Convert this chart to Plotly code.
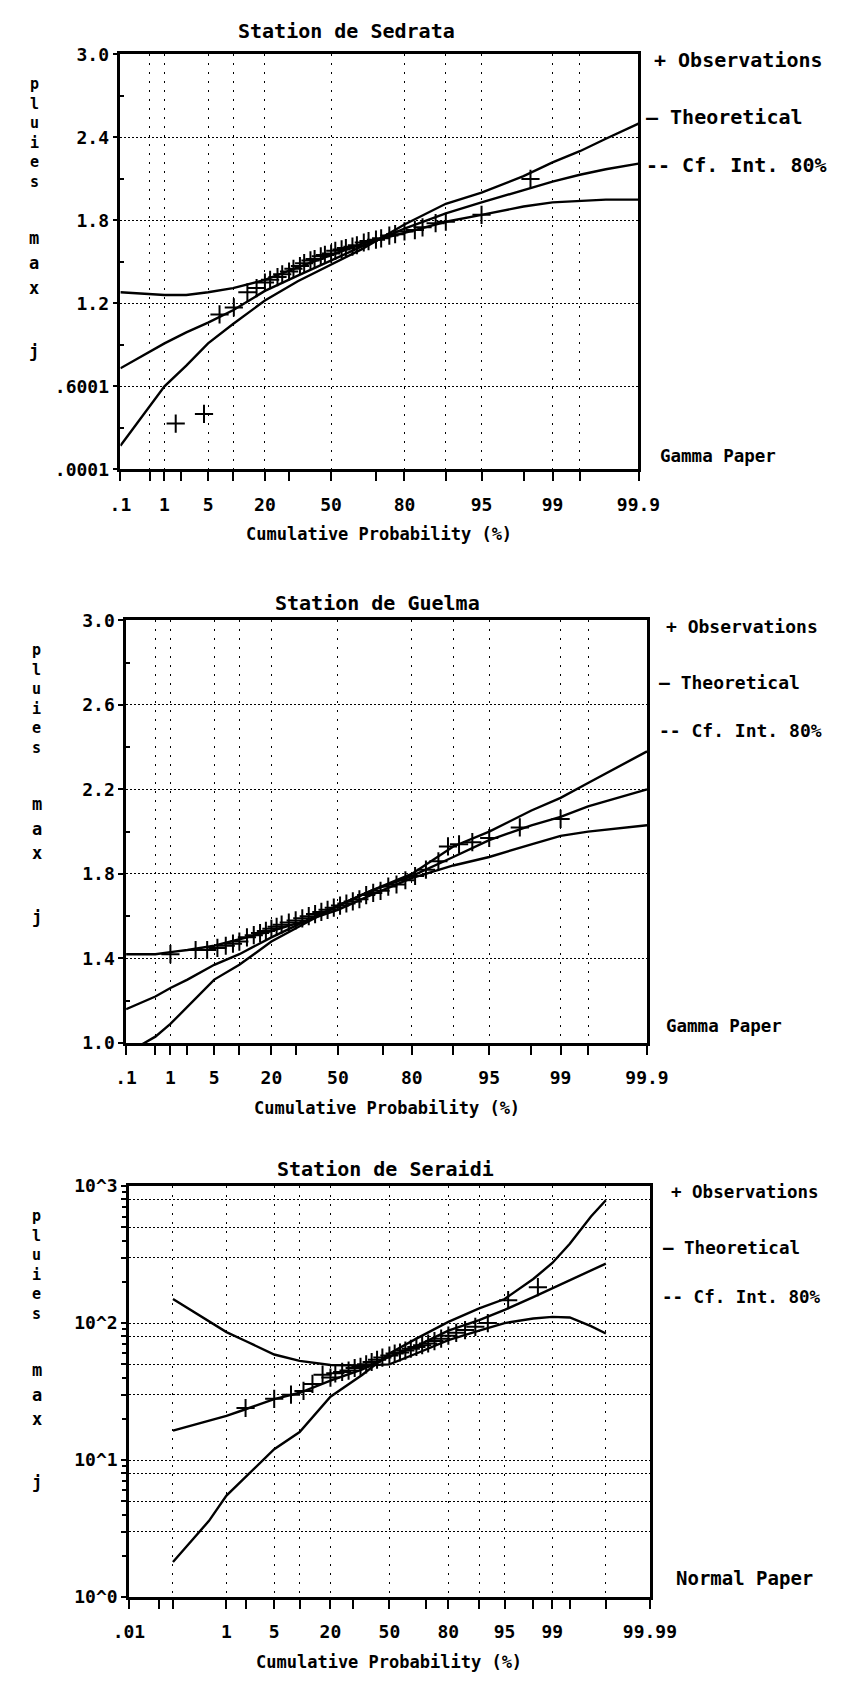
import plotly.graph_objects as go
from statistics import NormalDist

W, H = 842, 1686
MONO = "DejaVu Sans Mono"

# ---------------- data ----------------
# Station de Sedrata (gamma probability paper, linear y)
sed_prob = [0.1, 0.5, 1, 2.4, 5, 10, 20, 34, 50, 64, 80, 90, 95, 98, 99, 99.5, 99.75, 99.9]
sed_theo = [0.73, 0.85, 0.91, 0.99, 1.06, 1.15, 1.29, 1.40, 1.51, 1.61, 1.74, 1.85, 1.93, 2.02, 2.08, 2.13, 2.17, 2.21]
sed_ci_a = [1.28, 1.27, 1.26, 1.26, 1.28, 1.31, 1.37, 1.46, 1.55, 1.63, 1.71, 1.79, 1.84, 1.90, 1.93, 1.94, 1.95, 1.95]
sed_ci_b = [0.17, 0.46, 0.60, 0.75, 0.91, 1.05, 1.22, 1.36, 1.48, 1.59, 1.77, 1.92, 2.00, 2.12, 2.22, 2.30, 2.39, 2.50]
sed_obs_prob = [1.6, 4.4, 7.0, 10.2, 14, 17, 20, 22, 25, 27, 30, 32, 35, 37, 40, 42, 45, 47, 50,
                52, 55, 57, 60, 62, 65, 67, 70, 72, 75, 77, 80, 83, 85, 88, 90, 95, 98.3]
sed_obs_val = [0.33, 0.40, 1.12, 1.17, 1.28, 1.31, 1.35, 1.37, 1.39, 1.41, 1.43, 1.45, 1.47, 1.49, 1.51, 1.52, 1.54, 1.55, 1.56,
               1.58, 1.59, 1.60, 1.61, 1.62, 1.64, 1.65, 1.66, 1.67, 1.69, 1.70, 1.72, 1.73, 1.75, 1.78, 1.79, 1.84, 2.10]

# Station de Guelma (gamma probability paper, linear y)
gue_prob = [0.1, 0.5, 1, 2, 5, 10, 20, 35, 50, 65, 80, 90, 95, 98, 99, 99.5, 99.9]
gue_theo = [1.16, 1.22, 1.26, 1.30, 1.37, 1.42, 1.50, 1.58, 1.65, 1.72, 1.79, 1.88, 1.96, 2.03, 2.07, 2.12, 2.20]
gue_ci_a = [1.42, 1.42, 1.43, 1.44, 1.46, 1.49, 1.53, 1.58, 1.63, 1.70, 1.78, 1.84, 1.88, 1.94, 1.98, 2.00, 2.03]
gue_ci_b = [0.95, 1.03, 1.09, 1.17, 1.30, 1.37, 1.48, 1.57, 1.65, 1.72, 1.80, 1.93, 2.00, 2.10, 2.16, 2.23, 2.38]
gue_obs_prob = [1, 2.7, 4, 5.5, 7, 8.5, 10, 12, 14, 16, 18, 20, 22, 24, 27, 30, 33, 36, 39, 42, 45, 48,
                51, 54, 57, 60, 63, 66, 69, 72, 75, 78, 81, 84, 87, 89, 91, 93, 95, 97.4, 99]
gue_obs_val = [1.42, 1.44, 1.44, 1.45, 1.46, 1.47, 1.48, 1.50, 1.51, 1.52, 1.53, 1.54, 1.55, 1.56, 1.57, 1.58, 1.59, 1.60,
               1.61, 1.62, 1.63, 1.64, 1.65, 1.66, 1.67, 1.68, 1.70, 1.71, 1.72, 1.74, 1.75, 1.77, 1.79, 1.82, 1.86,
               1.93, 1.94, 1.95, 1.97, 2.02, 2.06]

# Station de Seraidi (normal probability paper, log y)
ser_prob = [0.1, 0.5, 1, 2, 5, 10, 20, 35, 50, 65, 80, 90, 95, 98, 99, 99.5, 99.8, 99.9]
ser_theo = [16.4, 19.5, 21, 23.5, 27.9, 31, 38, 46, 57, 68, 88, 105, 125, 155, 180, 205, 245, 272]
ser_ci_a = [150, 104, 86, 74, 59, 53, 49.5, 49, 50, 60, 75, 88, 100, 108, 111, 110, 95, 84]
ser_ci_b = [1.8, 3.6, 5.5, 7.5, 12, 16, 29, 42, 60, 77, 102, 128, 150, 210, 275, 380, 600, 790]
ser_obs_prob = [2, 5, 8, 11, 13.6, 17, 20, 22, 25, 28, 31, 34, 37, 40, 43, 46, 50, 53, 56, 59, 62, 65,
                68, 71, 74, 77, 80, 83, 86, 89, 92, 95.5, 98.3]
ser_obs_val = [24, 28, 30, 32, 36, 42, 40, 43, 44, 45, 47, 48, 50, 52, 54, 56, 58, 60, 61, 63, 65, 67,
               69, 71, 74, 77, 81, 85, 89, 94, 100, 147, 183]

# axis tick definitions
gamma_major = [0.1, 0.5, 1, 5, 10, 20, 50, 80, 90, 95, 99, 99.5, 99.9]
gamma_major_text = [".1", "", "1", "5", "", "20", "50", "80", "", "95", "99", "", "99.9"]
gamma_minor = [2, 30, 70, 98]
normal_major = [0.01, 0.1, 1, 5, 10, 20, 50, 80, 90, 95, 99, 99.9, 99.99]
normal_major_text = [".01", "", "1", "5", "", "20", "50", "80", "", "95", "99", "", "99.99"]
normal_minor = [0.05, 2, 30, 70, 98, 99.5]

sed_yticks = [0.0001, 0.6001, 1.2, 1.8, 2.4, 3.0]
sed_ytext = [".0001", ".6001", "1.2", "1.8", "2.4", "3.0"]
sed_yminor = [0.3001, 0.9, 1.5, 2.1, 2.7]
gue_yticks = [1.0, 1.4, 1.8, 2.2, 2.6, 3.0]
gue_ytext = ["1.0", "1.4", "1.8", "2.2", "2.6", "3.0"]
gue_yminor = [1.2, 1.6, 2.0, 2.4, 2.8]
ser_yticks = [1, 3, 5, 8, 10, 30, 50, 80, 100, 300, 500, 800, 1000]
ser_ytext = ["10^0", "", "", "", "10^1", "", "", "", "10^2", "", "", "", "10^3"]
ser_yminor = [2, 4, 6, 7, 9, 20, 40, 60, 70, 90, 200, 400, 600, 700, 900]

# ---------------- probability-paper scales ----------------
ND = NormalDist()
K_SHAPE = 30.0


def gamma_paper(p):
    a = 1.0 / (9.0 * K_SHAPE)
    z = ND.inv_cdf(p / 100.0)
    return (1.0 - a + z * a ** 0.5) ** 3


def normal_paper(p):
    return ND.inv_cdf(p / 100.0)


def px_x(x):
    return x / W


def px_y(y):
    return 1 - y / H


panels = [
    dict(title="Station de Sedrata", paper=gamma_paper, xmin=0.1, xmax=99.9,
         box=(110, 656, 44, 464), prob=sed_prob, theo=sed_theo, ci_a=sed_ci_a, ci_b=sed_ci_b,
         op=sed_obs_prob, ov=sed_obs_val, major=gamma_major, mtext=gamma_major_text, minor=gamma_minor,
         yt=sed_yticks, ytt=sed_ytext, ym=sed_yminor, ytype="linear", yrange=[0.0001, 3.0],
         paper_label="Gamma Paper", paper_pos=(677, 451), paper_size=17.5,
         title_pos=(348, 20), leg_size=20, leg_x=(670, 662, 662), lab_x=19),
    dict(title="Station de Guelma", paper=gamma_paper, xmin=0.1, xmax=99.9,
         box=(116, 665, 617, 1045), prob=gue_prob, theo=gue_theo, ci_a=gue_ci_a, ci_b=gue_ci_b,
         op=gue_obs_prob, ov=gue_obs_val, major=gamma_major, mtext=gamma_major_text, minor=gamma_minor,
         yt=gue_yticks, ytt=gue_ytext, ym=gue_yminor, ytype="linear", yrange=[1.0, 3.0],
         paper_label="Gamma Paper", paper_pos=(683, 1028), paper_size=17.5,
         title_pos=(381, 599), leg_size=18, leg_x=(683, 675, 675), lab_x=22),
    dict(title="Station de Seraidi", paper=normal_paper, xmin=0.01, xmax=99.99,
         box=(119, 668, 1190, 1606), prob=ser_prob, theo=ser_theo, ci_a=ser_ci_a, ci_b=ser_ci_b,
         op=ser_obs_prob, ov=ser_obs_val, major=normal_major, mtext=normal_major_text, minor=normal_minor,
         yt=ser_yticks, ytt=ser_ytext, ym=ser_yminor, ytype="log", yrange=[0, 3],
         paper_label="Normal Paper", paper_pos=(693, 1587), paper_size=19,
         title_pos=(389, 1173), leg_size=17.5, leg_x=(688, 680, 679), lab_x=22),
]

fig = go.Figure()
annotations = []


def bold(size):
    return dict(family=MONO, size=size, color="black", weight="bold")


for i, pnl in enumerate(panels, start=1):
    xa = "x" if i == 1 else f"x{i}"
    ya = "y" if i == 1 else f"y{i}"
    f = pnl["paper"]
    xs = [f(p) for p in pnl["prob"]]
    line = dict(color="black", width=2.4)
    for key, nm in (("theo", "Theoretical"), ("ci_a", "Cf. Int. 80%"), ("ci_b", "Cf. Int. 80%")):
        fig.add_trace(go.Scatter(x=xs, y=pnl[key], mode="lines", line=line, name=nm,
                                 showlegend=False, xaxis=xa, yaxis=ya, hoverinfo="skip"))
    fig.add_trace(go.Scatter(x=[f(p) for p in pnl["op"]], y=pnl["ov"], mode="markers", name="Observations",
                             marker=dict(symbol="cross-thin", size=13, line=dict(color="black", width=2)),
                             showlegend=False, xaxis=xa, yaxis=ya, cliponaxis=False))

    x0, x1, y0, y1 = pnl["box"]
    common = dict(showline=True, linecolor="black", linewidth=2.5, mirror=True,
                  ticks="outside", tickcolor="black", tickwidth=1.5,
                  showgrid=True, gridcolor="black", gridwidth=1, zeroline=False,
                  tickfont=bold(18))
    xaxis = dict(common, domain=[px_x(x0), px_x(x1)], anchor=ya,
                 range=[f(pnl["xmin"]), f(pnl["xmax"])],
                 tickmode="array", tickvals=[f(p) for p in pnl["major"]], ticktext=pnl["mtext"],
                 ticklen=9, griddash="2px,7px", ticklabelstandoff=8,
                 minor=dict(tickmode="array", tickvals=[f(p) for p in pnl["minor"]], ticks="outside",
                            ticklen=9, tickcolor="black", tickwidth=1.5, showgrid=False))
    yaxis = dict(common, domain=[px_y(y1), px_y(y0)], anchor=xa, type=pnl["ytype"],
                 range=pnl["yrange"], tickmode="array", tickvals=pnl["yt"], ticktext=pnl["ytt"],
                 ticklen=5, griddash="2px,2px",
                 minor=dict(tickmode="array", tickvals=pnl["ym"], ticks="inside", ticklen=4,
                            tickcolor="black", tickwidth=1.5, showgrid=False))
    if pnl["ytype"] == "log":
        yaxis["minor"]["ticks"] = "outside"
    fig.update_layout(**{("xaxis" if i == 1 else f"xaxis{i}"): xaxis,
                         ("yaxis" if i == 1 else f"yaxis{i}"): yaxis})

    # title
    tx, ty = pnl["title_pos"]
    annotations.append(dict(text=pnl["title"], x=px_x(tx), y=px_y(ty),
                            xref="paper", yref="paper", showarrow=False, xanchor="center", yanchor="middle",
                            font=bold(20)))
    # x axis title
    annotations.append(dict(text="Cumulative Probability (%)", x=px_x((x0 + x1) / 2), y=px_y(y1 + 66),
                            xref="paper", yref="paper", showarrow=False, xanchor="center", yanchor="middle",
                            font=bold(17)))
    # legend text
    leg_y = [y0 + 6, y0 + 63, y0 + 112]
    leg_txt = ["+ Observations", "\u2014 Theoretical", "-- Cf. Int. 80%"]
    for t, lx, ly in zip(leg_txt, pnl["leg_x"], leg_y):
        annotations.append(dict(text=t, x=px_x(lx), y=px_y(ly), xref="paper", yref="paper",
                                showarrow=False, xanchor="left", yanchor="middle",
                                font=bold(pnl["leg_size"])))
    px_, py_ = pnl["paper_pos"]
    annotations.append(dict(text=pnl["paper_label"], x=px_x(px_), y=px_y(py_),
                            xref="paper", yref="paper", showarrow=False, xanchor="left", yanchor="middle",
                            font=bold(pnl["paper_size"])))
    # vertical y-axis label  "pluies max j"
    annotations.append(dict(text="p<br>l<br>u<br>i<br>e<br>s", x=px_x(pnl["lab_x"]), y=px_y(y0 + 80),
                            xref="paper", yref="paper", showarrow=False, xanchor="center", yanchor="middle",
                            font=bold(15)))
    for ch, off in (("m", 186), ("a", 211), ("x", 236), ("j", 300)):
        annotations.append(dict(text=ch, x=px_x(pnl["lab_x"]), y=px_y(y0 + off), xref="paper", yref="paper",
                                showarrow=False, xanchor="center", yanchor="middle",
                                font=bold(17)))

fig.update_layout(width=W, height=H, margin=dict(l=0, r=0, t=0, b=0),
                  paper_bgcolor="white", plot_bgcolor="white", showlegend=False,
                  annotations=annotations)

fig.write_html("out.html", config={"displayModeBar": False},
               post_script="document.body.style.margin='0';")
